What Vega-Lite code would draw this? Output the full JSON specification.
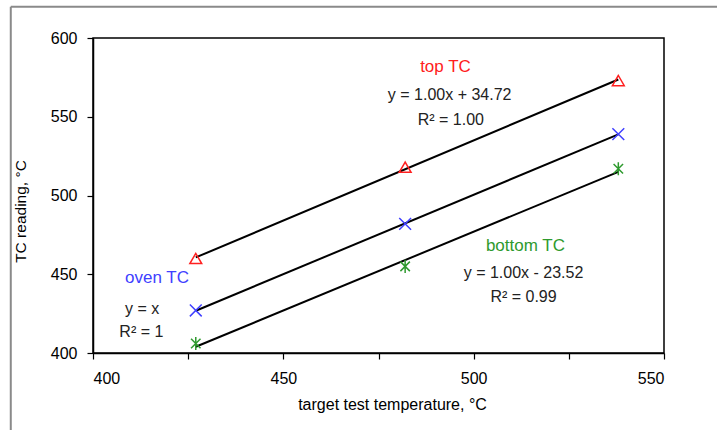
{
  "$schema": "https://vega.github.io/schema/vega-lite/v6.json",
  "width": 571,
  "height": 315,
  "autosize": {"type": "none"},
  "padding": {"left": 93, "top": 38, "right": 53, "bottom": 77},
  "background": "white",
  "config": {
    "font": "Liberation Sans",
    "view": {"stroke": "black", "strokeWidth": 1.5},
    "axis": {
      "grid": false,
      "domainColor": "black",
      "domainWidth": 1.5,
      "tickColor": "black",
      "tickWidth": 1.2,
      "tickSize": 6,
      "labelColor": "black",
      "labelFontSize": 16,
      "labelFont": "Liberation Sans",
      "titleFont": "Liberation Sans",
      "titleFontSize": 15.5,
      "titleFontWeight": "normal",
      "titleColor": "black"
    }
  },
  "datasets": {
    "readings": [
      {"series": "top TC", "target": 427, "reading": 460},
      {"series": "top TC", "target": 482, "reading": 518},
      {"series": "top TC", "target": 538, "reading": 573},
      {"series": "oven TC", "target": 427, "reading": 427},
      {"series": "oven TC", "target": 482, "reading": 482},
      {"series": "oven TC", "target": 538, "reading": 539},
      {"series": "bottom TC", "target": 427, "reading": 406},
      {"series": "bottom TC", "target": 482, "reading": 455},
      {"series": "bottom TC", "target": 538, "reading": 517}
    ],
    "seriesNames": [
      {"series": "top TC", "x": 492.6, "y": 581.6},
      {"series": "oven TC", "x": 416.8, "y": 447.6},
      {"series": "bottom TC", "x": 513.6, "y": 467.9}
    ],
    "fits": [
      {"text": "y = 1.00x + 34.72", "x": 493.7, "y": 563.8},
      {"text": "R² = 1.00", "x": 494, "y": 548},
      {"text": "y = x", "x": 412.9, "y": 427.9},
      {"text": "R² = 1", "x": 412.7, "y": 413.3},
      {"text": "y = 1.00x - 23.52", "x": 513.1, "y": 450.8},
      {"text": "R² = 0.99", "x": 513.1, "y": 435.6}
    ]
  },
  "layer": [
    {
      "data": {"name": "readings"},
      "transform": [
        {"regression": "reading", "on": "target", "groupby": ["series"], "method": "linear"}
      ],
      "mark": {"type": "line", "color": "black", "strokeWidth": 2},
      "encoding": {
        "x": {
          "field": "target",
          "type": "quantitative",
          "scale": {"domain": [400, 550], "nice": false, "zero": false},
          "axis": {
            "title": "target test temperature, °C",
            "titleFontSize": 16,
            "values": [400, 425, 450, 475, 500, 525, 550],
            "labelExpr": "datum.value % 50 === 0 ? datum.label : ''",
            "labelPadding": 11,
            "titlePadding": 10,
            "titleX": 299
          }
        },
        "y": {
          "field": "reading",
          "type": "quantitative",
          "scale": {"domain": [400, 600], "nice": false, "zero": false},
          "axis": {
            "title": "TC reading, °C",
            "values": [400, 425, 450, 475, 500, 525, 550, 575, 600],
            "labelExpr": "datum.value % 50 === 0 ? datum.label : ''",
            "labelPadding": 10,
            "titlePadding": 22,
            "titleY": 173
          }
        },
        "detail": {"field": "series"}
      }
    },
    {
      "data": {"name": "readings"},
      "mark": {"type": "point", "filled": false, "strokeWidth": 1.5, "opacity": 1},
      "encoding": {
        "x": {"field": "target", "type": "quantitative"},
        "y": {"field": "reading", "type": "quantitative"},
        "shape": {
          "field": "series",
          "type": "nominal",
          "scale": {
            "domain": ["top TC", "oven TC", "bottom TC"],
            "range": ["triangle-up", "M-1,-1L1,1M-1,1L1,-1", "M-0.8,-0.8L0.8,0.8M-0.8,0.8L0.8,-0.8M0,-1.1L0,1.1"]
          },
          "legend": null
        },
        "color": {
          "field": "series",
          "type": "nominal",
          "scale": {
            "domain": ["top TC", "oven TC", "bottom TC"],
            "range": ["#ff2020", "#4040ff", "#2e9a2e"]
          },
          "legend": null
        },
        "size": {"value": 140}
      }
    },
    {
      "data": {"name": "seriesNames"},
      "mark": {"type": "text", "fontSize": 17, "align": "center", "baseline": "middle"},
      "encoding": {
        "x": {"field": "x", "type": "quantitative"},
        "y": {"field": "y", "type": "quantitative"},
        "text": {"field": "series"},
        "color": {"field": "series", "type": "nominal", "legend": null}
      }
    },
    {
      "data": {"name": "fits"},
      "mark": {"type": "text", "fontSize": 16, "align": "center", "baseline": "middle", "color": "#222222"},
      "encoding": {
        "x": {"field": "x", "type": "quantitative"},
        "y": {"field": "y", "type": "quantitative"},
        "text": {"field": "text"}
      }
    },
    {
      "data": {"values": [{}]},
      "mark": {"type": "rule", "color": "#8a8a8a", "strokeWidth": 2},
      "encoding": {
        "x": {"datum": 378.4},
        "y": {"datum": 340},
        "y2": {"datum": 619.8}
      }
    },
    {
      "data": {"values": [{}]},
      "mark": {"type": "rule", "color": "#8a8a8a", "strokeWidth": 2},
      "encoding": {
        "y": {"datum": 619.8},
        "x": {"datum": 378.4},
        "x2": {"datum": 575}
      }
    }
  ]
}
